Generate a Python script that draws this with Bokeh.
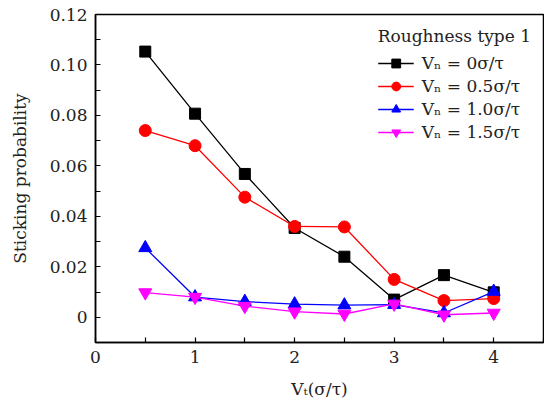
from bokeh.plotting import figure
from bokeh.models import FixedTicker, Range1d, Legend, LegendItem
from bokeh.embed import file_html
from bokeh.resources import INLINE

vt = [0.5, 1.0, 1.5, 2.0, 2.5, 3.0, 3.5, 4.0]
vn0 = [0.1053, 0.0807, 0.0568, 0.0354, 0.0240, 0.0070, 0.0167, 0.0099]
vn05 = [0.0740, 0.0680, 0.0476, 0.0360, 0.0358, 0.0150, 0.0066, 0.0074]
vn10 = [0.0275, 0.0080, 0.0062, 0.0052, 0.0048, 0.0050, 0.0017, 0.0102]
vn15 = [0.0098, 0.0080, 0.0044, 0.0022, 0.0013, 0.0053, 0.0010, 0.0017]
labels = ["Vₙ = 0σ/τ", "Vₙ = 0.5σ/τ", "Vₙ = 1.0σ/τ", "Vₙ = 1.5σ/τ"]
y_ticks = [0.0, 0.02, 0.04, 0.06, 0.08, 0.10, 0.12]
y_tick_labels = ["0", "0.02", "0.04", "0.06", "0.08", "0.10", "0.12"]
x_ticks = [0, 1, 2, 3, 4]

FONT = "DejaVu Serif"

p = figure(width=544, height=401, output_backend="svg", toolbar_location=None,
           x_range=Range1d(0, 4.5), y_range=Range1d(-0.01, 0.12),
           min_border_left=95, min_border_right=1, min_border_top=14, min_border_bottom=59)
p.xgrid.visible = False
p.ygrid.visible = False
p.outline_line_color = "black"
p.outline_line_width = 1.5
p.outline_line_alpha = 1

p.xaxis.ticker = FixedTicker(ticks=x_ticks, minor_ticks=[0.5, 1.5, 2.5, 3.5, 4.5])
p.yaxis.ticker = FixedTicker(ticks=y_ticks, minor_ticks=[-0.01, 0.01, 0.03, 0.05, 0.07, 0.09, 0.11])
p.yaxis.major_label_overrides = {t: l for t, l in zip(y_ticks, y_tick_labels)}
p.xaxis.major_label_overrides = {t: str(t) for t in x_ticks}

for ax in (p.xaxis[0], p.yaxis[0]):
    ax.major_tick_in = 5
    ax.major_tick_out = 0
    ax.minor_tick_in = 5
    ax.minor_tick_out = 0
    ax.axis_line_width = 1.5
    ax.major_tick_line_width = 1.2
    ax.minor_tick_line_width = 1.2
    ax.major_label_text_font = FONT
    ax.major_label_text_font_size = "17px"
    ax.major_label_text_color = "#222222"
    ax.axis_label_text_font = FONT
    ax.axis_label_text_font_size = "17px"
    ax.axis_label_text_font_style = "normal"
    ax.axis_label_text_color = "#222222"
    ax.major_label_standoff = 8

p.yaxis.axis_label = "Sticking probability"
p.xaxis.axis_label = "Vₜ(σ/τ)"
p.yaxis.axis_label_standoff = 17
p.xaxis.axis_label_standoff = 13

series = [(vn0, "black", "square", 11), (vn05, "red", "circle", 12),
          (vn10, "blue", "triangle", 13), (vn15, "magenta", "inverted_triangle", 13)]
items = []
for (ys, c, m, s), lab in zip(series, labels):
    r1 = p.line(vt, ys, line_color=c, line_width=1.3)
    r2 = p.scatter(vt, ys, marker=m, size=s, fill_color=c, line_color=c)
    items.append(LegendItem(label=lab, renderers=[r1, r2]))

legend = Legend(items=items, location="top_right")
legend.title = "Roughness type 1"
legend.title_text_font = FONT
legend.title_text_font_size = "17px"
legend.title_text_font_style = "normal"
legend.title_text_color = "#222222"
legend.label_text_font = FONT
legend.label_text_font_size = "17px"
legend.label_text_color = "#222222"
legend.border_line_alpha = 0
legend.background_fill_alpha = 0
legend.glyph_width = 36
legend.glyph_height = 22
legend.spacing = 1
legend.label_standoff = 8
legend.margin = 4
legend.padding = 8
legend.title_standoff = 6
p.add_layout(legend)

open("out.html", "w").write(file_html(p, INLINE))
